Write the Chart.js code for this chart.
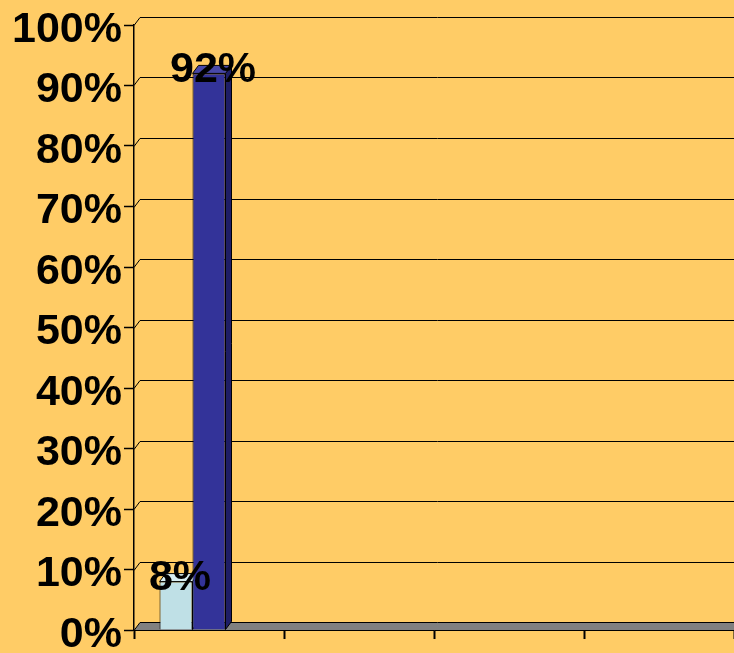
<!DOCTYPE html>
<html>
<head>
<meta charset="utf-8">
<script src="https://cdn.jsdelivr.net/npm/chart.js@4/dist/chart.umd.min.js"></script>
<style>
  html, body { margin: 0; padding: 0; background: #FFCC66; }
  #wrap { width: 734px; height: 653px; }
</style>
</head>
<body>
<div id="wrap"><canvas id="shareChart"></canvas></div>
<script>
// values (percent)
let categories = ['', '', '', ''];
let lightSeries = [8, null, null, null];
let darkSeries = [92, null, null, null];
let depthSlot = [null, null, null, null]; // empty third slot, Excel 3D leaves room for depth
let yTicks = [0, 10, 20, 30, 40, 50, 60, 70, 80, 90, 100];

let DX = 6, DY = 8;
let faceColors = [
  { top: '#D8EEF2', side: '#8FB3BA' },
  { top: '#4848A8', side: '#1E1E66' }
];

function poly(ctx, pts, fill) {
  ctx.beginPath();
  ctx.moveTo(pts[0][0], pts[0][1]);
  for (let i = 1; i < pts.length; i++) ctx.lineTo(pts[i][0], pts[i][1]);
  ctx.closePath();
  ctx.fillStyle = fill;
  ctx.fill();
  ctx.strokeStyle = '#000';
  ctx.lineWidth = 1;
  ctx.stroke();
}

let wallPlugin = {
  id: 'wall3d',
  beforeDatasetsDraw(chart) {
    let ctx = chart.ctx, a = chart.chartArea, y = chart.scales.y;
    ctx.save();
    // back wall gridlines
    ctx.strokeStyle = '#000';
    ctx.lineWidth = 1;
    yTicks.forEach(function (v) {
      if (v === 0) return;
      let py = Math.round(y.getPixelForValue(v)) + 0.5;
      ctx.beginPath();
      ctx.moveTo(a.left, py);
      ctx.lineTo(a.left + DX, py - DY);
      ctx.lineTo(a.right + 2, py - DY);
      ctx.stroke();
    });
    // floor
    let b = Math.round(y.getPixelForValue(0)) + 0.5;
    poly(ctx, [[a.left, b], [a.left + DX, b - DY], [a.right + 2, b - DY], [a.right + 2, b]], '#808080');
    // tops and sides of bars (front faces drawn by Chart.js afterwards)
    [0, 1].forEach(function (di) {
      chart.getDatasetMeta(di).data.forEach(function (bar, i) {
        if (chart.data.datasets[di].data[i] == null) return;
        let l = bar.x - bar.width / 2, r = bar.x + bar.width / 2;
        poly(ctx, [[r, bar.y], [r + DX, bar.y - DY], [r + DX, bar.base - DY], [r, bar.base]], faceColors[di].side);
        poly(ctx, [[l, bar.y], [l + DX, bar.y - DY], [r + DX, bar.y - DY], [r, bar.y]], faceColors[di].top);
      });
    });
    ctx.restore();
  },
  afterDatasetsDraw(chart) {
    let ctx = chart.ctx;
    ctx.save();
    ctx.font = 'bold 43px "Liberation Sans", Arial, sans-serif';
    ctx.fillStyle = '#000';
    ctx.textAlign = 'center';
    ctx.textBaseline = 'middle';
    [0, 1].forEach(function (di) {
      chart.getDatasetMeta(di).data.forEach(function (bar, i) {
        let v = chart.data.datasets[di].data[i];
        if (v == null) return;
        ctx.fillText(v + '%', bar.x + 4, bar.y - 3);
      });
    });
    ctx.restore();
  }
};

let chart = new Chart(document.getElementById('shareChart').getContext('2d'), {
  type: 'bar',
  data: {
    labels: categories,
    datasets: [
      { data: lightSeries, backgroundColor: '#BFE0E6', borderColor: '#000', borderWidth: 1 },
      { data: darkSeries, backgroundColor: '#333399', borderColor: '#000', borderWidth: 1 },
      { data: depthSlot, backgroundColor: 'rgba(0,0,0,0)', borderWidth: 0 }
    ]
  },
  options: {
    responsive: true,
    maintainAspectRatio: false,
    animation: false,
    layout: { padding: { top: 25, right: 0, left: 0, bottom: 0 } },
    plugins: { legend: { display: false }, tooltip: { enabled: false } },
    datasets: { bar: { categoryPercentage: 0.66, barPercentage: 1 } },
    scales: {
      x: {
        grid: { offset: true, drawOnChartArea: false, color: '#000', tickLength: 9, tickWidth: 2 },
        border: { display: false },
        ticks: { display: true, padding: 0, font: { size: 1 } },
        afterFit: function (s) { s.height = 23; s.paddingLeft = 0; s.paddingRight = 0; }
      },
      y: {
        min: 0,
        max: 100,
        afterBuildTicks: function (s) { s.ticks = yTicks.map(function (v) { return { value: v }; }); },
        grid: { drawOnChartArea: false, color: '#000', tickLength: 10, tickWidth: 1.5 },
        border: { display: true, color: '#000', width: 1.5 },
        ticks: {
          color: '#000',
          padding: 2,
          labelOffset: 5,
          font: { family: '"Liberation Sans", Arial, sans-serif', size: 43, weight: 'bold' },
          callback: function (v) { return v + '%'; }
        },
        afterFit: function (s) { s.width = 134; s.paddingTop = 0; s.paddingBottom = 0; }
      }
    }
  },
  plugins: [wallPlugin]
});
</script>
</body>
</html>
